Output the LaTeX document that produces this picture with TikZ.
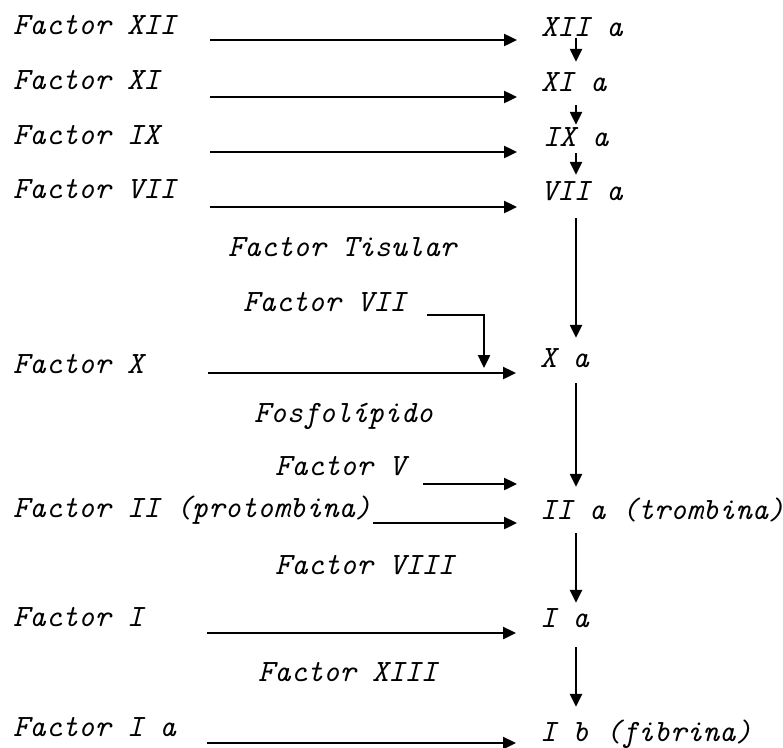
\documentclass[tikz,border=0pt]{standalone}
\usepackage{fontspec}
\usetikzlibrary{arrows.meta}
\begin{document}
\begin{tikzpicture}[x=1pt,y=-1pt,
  lbl/.style={anchor=base west, inner sep=0pt, font=\fontsize{31}{36}\selectfont\ttfamily\itshape\addfontfeatures{FakeBold=1.3}},
  rt/.style={lbl, text height=19pt, text depth=5pt},
  arr/.style={line width=2.4pt, -{Triangle[length=13pt,width=12pt]}}]
\useasboundingbox (0,0) rectangle (783,747);
% left column
\node[lbl] (fxii) at (13,34.5) {Factor XII};
\node[lbl] (fxi)  at (13,89.5) {Factor XI};
\node[lbl] (fix)  at (13,144.5) {Factor IX};
\node[lbl] (fvii) at (13,198.5) {Factor VII};
\node[lbl] (fx)   at (13,373) {Factor X};
\node[lbl] (fii)  at (13,517.5) {Factor II (protombina)};
\node[lbl] (fi)   at (13,626.5) {Factor I};
\node[lbl] (fia)  at (13,736.5) {Factor I a};
% middle labels
\node[lbl] (tis)   at (228,256.5) {Factor Tisular};
\node[lbl] (fviim) at (243,311.5) {Factor VII};
\node[lbl] (fos)   at (254,422.5) {Fosfolípido};
\node[lbl] (fv)    at (275,475.5) {Factor V};
\node[lbl] (fviii) at (275,574.5) {Factor VIII};
\node[lbl] (fxiii) at (258,681.5) {Factor XIII};
% right column
\node[rt] (xiia) at (541,36.5) {XII a};
\node[rt] (xia)  at (541,91.5) {XI a};
\node[rt] (ixa)  at (543,146.5) {IX a};
\node[rt] (viia) at (541,200.5) {VII a};
\node[rt] (xa)   at (540,367.5) {X a};
\node[rt] (iia)  at (540,519.5) {II a (trombina)};
\node[rt] (ia)   at (540,627.5) {I a};
\node[rt] (ib)   at (540,741.5) {I b (fibrina)};
% arrow start points
\coordinate (vx) at (576,0);
\coordinate (s1) at (210,40);
\coordinate (s2) at (210,97);
\coordinate (s3) at (210,152);
\coordinate (s4) at (210,207);
\coordinate (s5) at (208,373);
\coordinate (s6) at (423,484);
\coordinate (s7) at (373,523);
\coordinate (s8) at (207,633);
\coordinate (s9) at (207,743);
\coordinate (b1) at (427,315);
\coordinate (b2) at (484,368);
% horizontal arrows
\draw[arr, shorten >=24pt] (s1) -- (s1 -| xiia.west);
\draw[arr, shorten >=24pt] (s2) -- (s2 -| xia.west);
\draw[arr, shorten >=26pt] (s3) -- (s3 -| ixa.west);
\draw[arr, shorten >=24pt] (s4) -- (s4 -| viia.west);
\draw[arr, shorten >=24pt] (s5) -- (s5 -| xa.west);
\draw[arr, shorten >=23pt] (s6) -- (s6 -| iia.west);
\draw[arr, shorten >=23pt] (s7) -- (s7 -| iia.west);
\draw[arr, shorten >=24pt] (s8) -- (s8 -| ia.west);
\draw[arr, shorten >=24pt] (s9) -- (s9 -| ib.west);
% bent arrow
\draw[arr] (b1) -| (b2);
% vertical arrows
\draw[arr, shorten <=-3.5pt, shorten >=10.5pt] (xiia.south -| vx) -- (xia.north -| vx);
\draw[arr, shorten <=8.5pt, shorten >=2.5pt] (xia.south -| vx) -- (ixa.north -| vx);
\draw[arr, shorten <=1.5pt, shorten >=6.5pt] (ixa.south -| vx) -- (viia.north -| vx);
\draw[arr, shorten <=12.5pt, shorten >=10.5pt] (viia.south -| vx) -- (xa.north -| vx);
\draw[arr, shorten <=10.5pt, shorten >=13.5pt] (xa.south -| vx) -- (iia.north -| vx);
\draw[arr, shorten <=8.5pt, shorten >=5.5pt] (iia.south -| vx) -- (ia.north -| vx);
\draw[arr, shorten <=14.5pt, shorten >=15.5pt] (ia.south -| vx) -- (ib.north -| vx);
\end{tikzpicture}
\end{document}
